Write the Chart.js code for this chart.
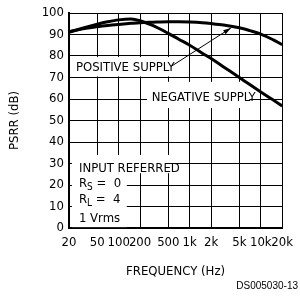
<!DOCTYPE html>
<html>
<head>
<meta charset="utf-8">
<script src="https://cdn.jsdelivr.net/npm/chart.js@4"></script>
<style>
  html, body { margin: 0; padding: 0; background: #fff; }
</style>
</head>
<body>
<canvas id="psrr" width="300" height="297"></canvas>
<script>
// frequency (Hz) and PSRR (dB)
const freqs = [20, 30, 50, 70, 100, 150, 200, 300, 500, 700, 1000, 1500, 2000, 3000, 5000, 7000, 10000, 15000, 20000];
const positiveSupply = [91.3, 92.5, 93.6, 94.2, 94.7, 95.2, 95.5, 95.7, 95.9, 95.9, 95.8, 95.5, 95.1, 94.4, 93.1, 91.8, 90.2, 87.5, 85.3];
const negativeSupply = [91.0, 92.8, 94.8, 95.9, 96.8, 97.2, 96.4, 94.2, 90.5, 87.8, 85.0, 81.3, 78.8, 74.9, 70.0, 66.7, 63.3, 59.5, 56.8];

const tickFreqs = [20, 50, 100, 200, 500, 1000, 2000, 5000, 10000, 20000];
const tickLabels = ['20', '50', '100', '200', '500', '1k', '2k', '5k', '10k', '20k'];

const FONT = "'Liberation Sans Narrow', 'Arial Narrow', 'DejaVu Sans Condensed', 'Liberation Sans', Arial, sans-serif";

// white patches behind the notes: [f0, f1, dbTop, dbBottom]
const eraseBoxes = [
  [22, 600, 79.5, 70.5],
  [250, 6900, 68, 55.8],
  [22, 520, 34, 25.5],
  [22, 130, 25.5, 0.4]
];

const notes = {
  id: 'notes',
  beforeDatasetsDraw(chart) {
    const {ctx, scales: {x, y}} = chart;
    ctx.save();
    ctx.fillStyle = '#fff';
    eraseBoxes.forEach(b => {
      const x0 = x.getPixelForValue(b[0]), x1 = x.getPixelForValue(b[1]);
      const y0 = y.getPixelForValue(b[2]), y1 = y.getPixelForValue(b[3]);
      ctx.fillRect(x0, y0, x1 - x0, y1 - y0);
    });
    ctx.restore();
  },
  afterDatasetsDraw(chart) {
    const {ctx, scales: {x, y}} = chart;
    ctx.save();
    ctx.fillStyle = '#000';
    ctx.strokeStyle = '#000';
    ctx.textBaseline = 'middle';
    ctx.textAlign = 'left';
    ctx.font = '13px ' + FONT;

    const put = (t, f, db) => ctx.fillText(t, x.getPixelForValue(f), y.getPixelForValue(db));
    put('POSITIVE SUPPLY', 25, 74.4);
    put('NEGATIVE SUPPLY', 293, 60.6);
    put('INPUT REFERRED', 27.6, 27.8);
    put('1 Vrms', 27.6, 4.2);

    // R with subscript
    const sub = (main, s, rest, db) => {
      let px = x.getPixelForValue(27.6), py = y.getPixelForValue(db);
      ctx.font = '13px ' + FONT;
      ctx.fillText(main, px, py);
      px += ctx.measureText(main).width;
      ctx.font = '10px ' + FONT;
      ctx.fillText(s, px, py + 4);
      px += ctx.measureText(s).width;
      ctx.font = '13px ' + FONT;
      ctx.fillText(rest, px, py);
    };
    sub('R', 'S', ' =  0', 20.8);
    sub('R', 'L', ' =  4', 13.3);

    // arrow to the positive supply curve
    const ax0 = x.getPixelForValue(556), ay0 = y.getPixelForValue(75.3);
    const ax1 = x.getPixelForValue(3790), ay1 = y.getPixelForValue(93);
    ctx.lineWidth = 1;
    ctx.beginPath();
    ctx.moveTo(ax0, ay0);
    ctx.lineTo(ax1, ay1);
    ctx.stroke();
    const ang = Math.atan2(ay1 - ay0, ax1 - ax0);
    ctx.beginPath();
    ctx.moveTo(ax1, ay1);
    ctx.lineTo(ax1 - 8 * Math.cos(ang - 0.3), ay1 - 8 * Math.sin(ang - 0.3));
    ctx.lineTo(ax1 - 8 * Math.cos(ang + 0.3), ay1 - 8 * Math.sin(ang + 0.3));
    ctx.closePath();
    ctx.fill();

    // figure id
    ctx.font = '10px Arial, "Liberation Sans", sans-serif';
    ctx.textAlign = 'right';
    ctx.fillText('DS005030-13', 298, 286);
    ctx.restore();
  }
};

const psrr = document.getElementById('psrr');

new Chart(psrr, {
  type: 'line',
  data: {
    datasets: [{
      label: 'Positive supply',
      data: freqs.map((f, i) => ({x: f, y: positiveSupply[i]})),
      borderColor: '#000',
      borderWidth: 3,
      pointRadius: 0,
      cubicInterpolationMode: 'monotone'
    }, {
      label: 'Negative supply',
      data: freqs.map((f, i) => ({x: f, y: negativeSupply[i]})),
      borderColor: '#000',
      borderWidth: 3,
      pointRadius: 0,
      cubicInterpolationMode: 'monotone'
    }]
  },
  options: {
    responsive: false,
    animation: false,
    layout: { padding: { left: 0, top: 13, right: 15, bottom: 0 } },
    plugins: {
      legend: { display: false },
      tooltip: { enabled: false }
    },
    scales: {
      x: {
        type: 'logarithmic',
        min: 20,
        max: 20000,
        afterBuildTicks: s => { s.ticks = tickFreqs.map(v => ({value: v})); },
        afterFit: s => { s.height = 69; },
        ticks: {
          autoSkip: false,
          maxRotation: 0,
          padding: 7,
          color: '#000',
          font: { family: FONT, size: 13 },
          callback: (v) => tickLabels[tickFreqs.indexOf(v)]
        },
        grid: { color: '#000', lineWidth: 1, drawTicks: false },
        border: { color: '#000', width: 2 },
        title: {
          display: true,
          text: 'FREQUENCY (Hz)',
          color: '#000',
          font: { family: FONT, size: 13 },
          padding: { top: 0, bottom: 18 }
        }
      },
      y: {
        min: 0,
        max: 100,
        afterFit: s => { s.width = 69; },
        ticks: {
          stepSize: 10,
          padding: 5,
          color: '#000',
          font: { family: FONT, size: 13 }
        },
        grid: { color: '#000', lineWidth: 1, drawTicks: false },
        border: { color: '#000', width: 2 },
        title: {
          display: true,
          text: 'PSRR (dB)',
          color: '#000',
          font: { family: FONT, size: 13 },
          padding: { top: 7, bottom: 0 }
        }
      }
    }
  },
  plugins: [notes]
});
</script>
</body>
</html>
